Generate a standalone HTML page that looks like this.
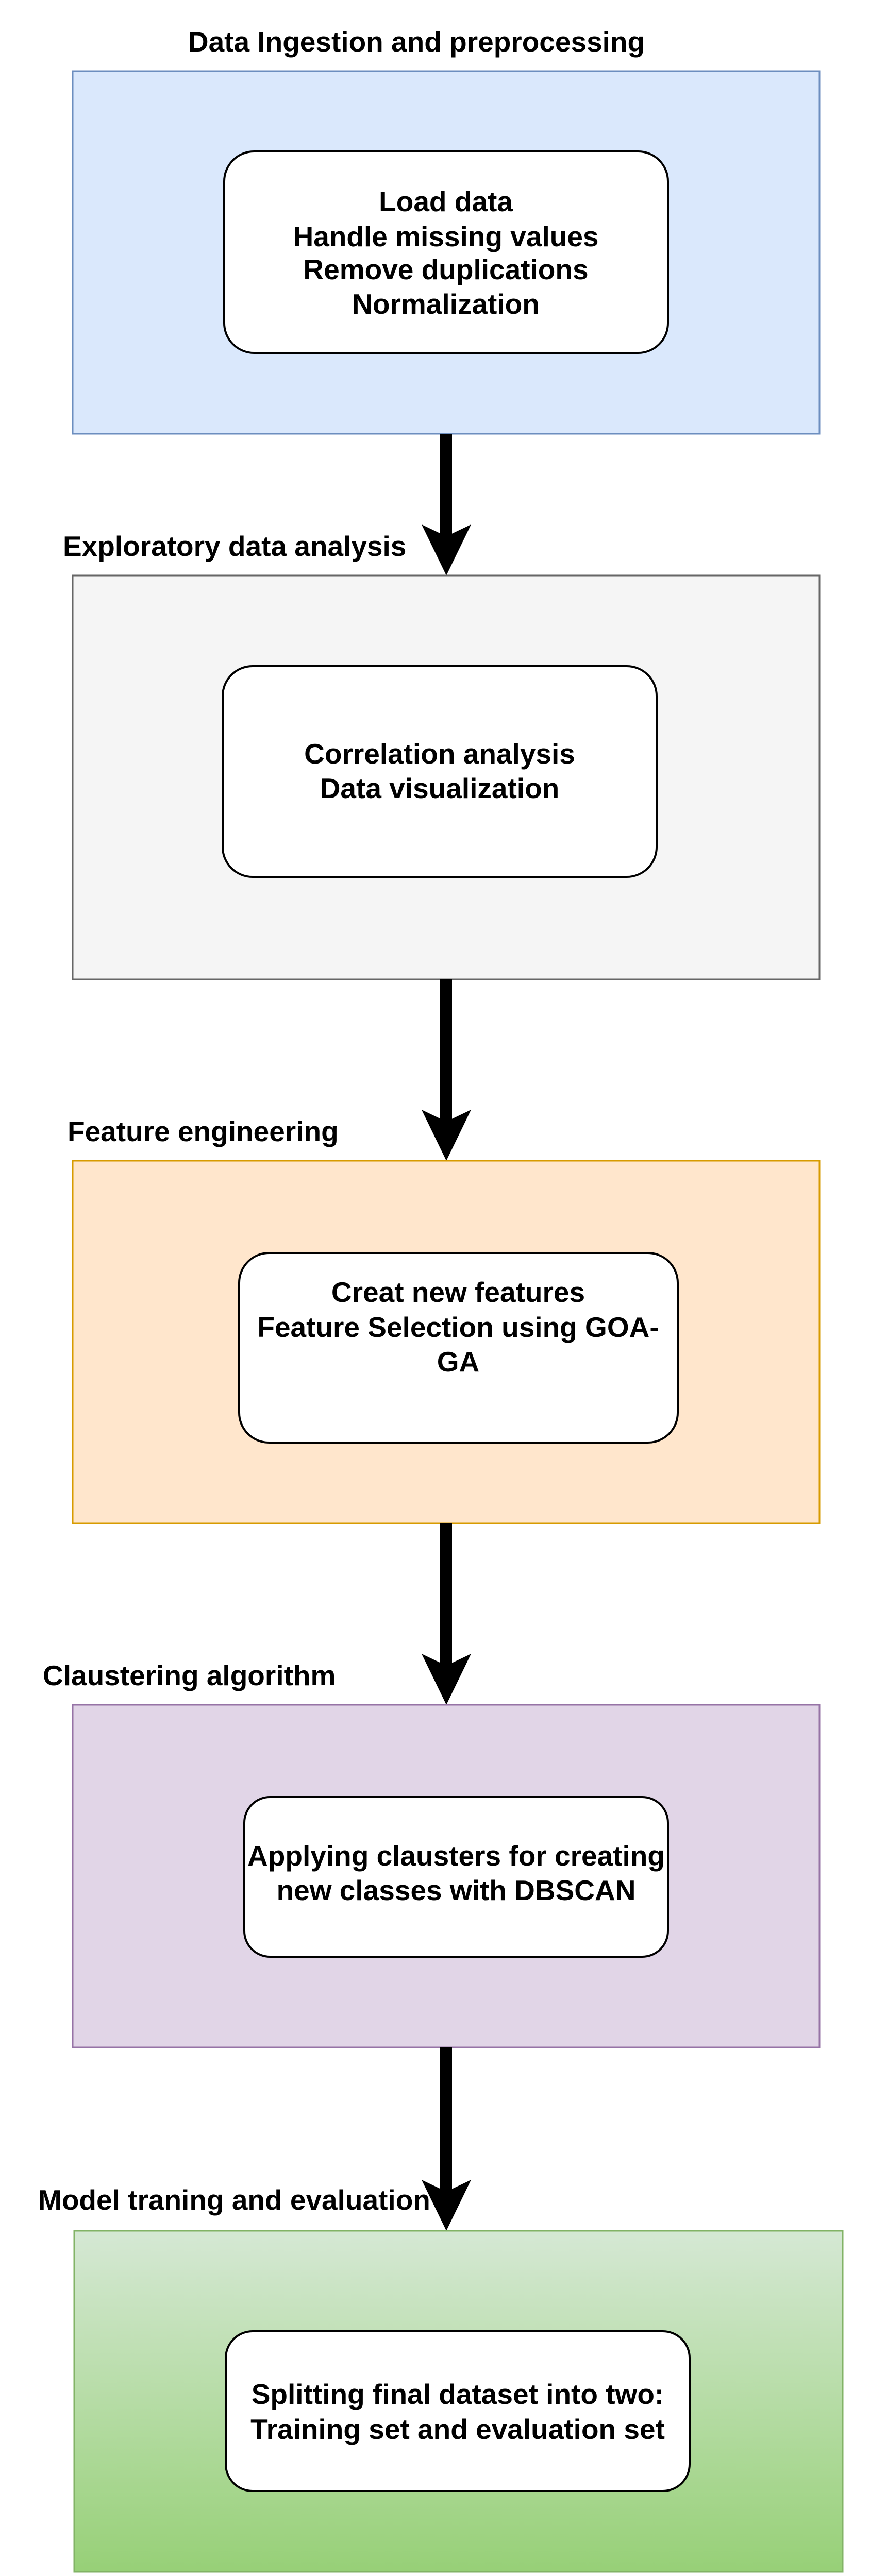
<!DOCTYPE html>
<html><head><meta charset="utf-8"><style>
html,body{margin:0;padding:0;background:#fff;overflow:hidden;width:1688px;height:5124px;}
svg{display:block;}
text{font-family:"Liberation Sans",Arial,sans-serif;font-weight:bold;font-size:55px;fill:#000;}
</style></head><body>
<svg width="1688" height="5124" viewBox="0 0 1688 5124" xmlns="http://www.w3.org/2000/svg">
<defs>
<linearGradient id="g" x1="0" y1="0" x2="0" y2="1">
<stop offset="0" stop-color="#d5e8d4"/><stop offset="1" stop-color="#97d077"/>
</linearGradient>
</defs>

<!-- Box 1 -->
<text x="808" y="100" text-anchor="middle">Data Ingestion and preprocessing</text>
<rect x="141" y="138" width="1449" height="704" fill="#dae8fc" stroke="#6c8ebf" stroke-width="3"/>
<rect x="435" y="294" width="861" height="391" rx="58" ry="58" fill="#fff" stroke="#000" stroke-width="4"/>
<text x="865" y="410" text-anchor="middle">Load data</text>
<text x="865" y="478" text-anchor="middle">Handle missing values</text>
<text x="865" y="542" text-anchor="middle">Remove duplications</text>
<text x="865" y="609" text-anchor="middle">Normalization</text>

<!-- Arrow 1 -->
<rect x="854" y="842" width="23" height="200" fill="#000"/>
<polygon points="818,1018 866,1041 914,1018 866,1117" fill="#000"/>

<!-- Box 2 -->
<text x="122" y="1079">Exploratory data analysis</text>
<rect x="141" y="1117" width="1449" height="784" fill="#f5f5f5" stroke="#666" stroke-width="3"/>
<rect x="432" y="1293" width="842" height="409" rx="58" ry="58" fill="#fff" stroke="#000" stroke-width="4"/>
<text x="853" y="1482" text-anchor="middle">Correlation analysis</text>
<text x="853" y="1549" text-anchor="middle">Data visualization</text>

<!-- Arrow 2 -->
<rect x="854" y="1901" width="23" height="280" fill="#000"/>
<polygon points="818,2154 866,2177 914,2154 866,2253" fill="#000"/>

<!-- Box 3 -->
<text x="131" y="2215">Feature engineering</text>
<rect x="141" y="2253" width="1449" height="704" fill="#ffe6cc" stroke="#d79b00" stroke-width="3"/>
<rect x="464" y="2432" width="851" height="368" rx="58" ry="58" fill="#fff" stroke="#000" stroke-width="4"/>
<text x="889" y="2527" text-anchor="middle">Creat new features</text>
<text x="889" y="2595" text-anchor="middle">Feature Selection using GOA-</text>
<text x="889" y="2662" text-anchor="middle">GA</text>

<!-- Arrow 3 -->
<rect x="854" y="2957" width="23" height="280" fill="#000"/>
<polygon points="818,3210 866,3233 914,3210 866,3309" fill="#000"/>

<!-- Box 4 -->
<text x="83" y="3271">Claustering algorithm</text>
<rect x="141" y="3309" width="1449" height="665" fill="#e1d5e7" stroke="#9673a6" stroke-width="3"/>
<rect x="474" y="3488" width="822" height="310" rx="50" ry="50" fill="#fff" stroke="#000" stroke-width="4"/>
<text x="885" y="3621" text-anchor="middle">Applying clausters for creating</text>
<text x="885" y="3688" text-anchor="middle">new classes with DBSCAN</text>

<!-- Arrow 4 -->
<rect x="854" y="3974" width="23" height="280" fill="#000"/>
<polygon points="818,4231 866,4254 914,4231 866,4330" fill="#000"/>

<!-- Box 5 -->
<text x="74" y="4289">Model traning and evaluation</text>
<rect x="144" y="4330" width="1491" height="662" fill="url(#g)" stroke="#82b366" stroke-width="3"/>
<rect x="438" y="4525" width="900" height="310" rx="52" ry="52" fill="#fff" stroke="#000" stroke-width="4"/>
<text x="888" y="4666" text-anchor="middle">Splitting final dataset into two:</text>
<text x="888" y="4734" text-anchor="middle">Training set and evaluation set</text>
</svg>
</body></html>
